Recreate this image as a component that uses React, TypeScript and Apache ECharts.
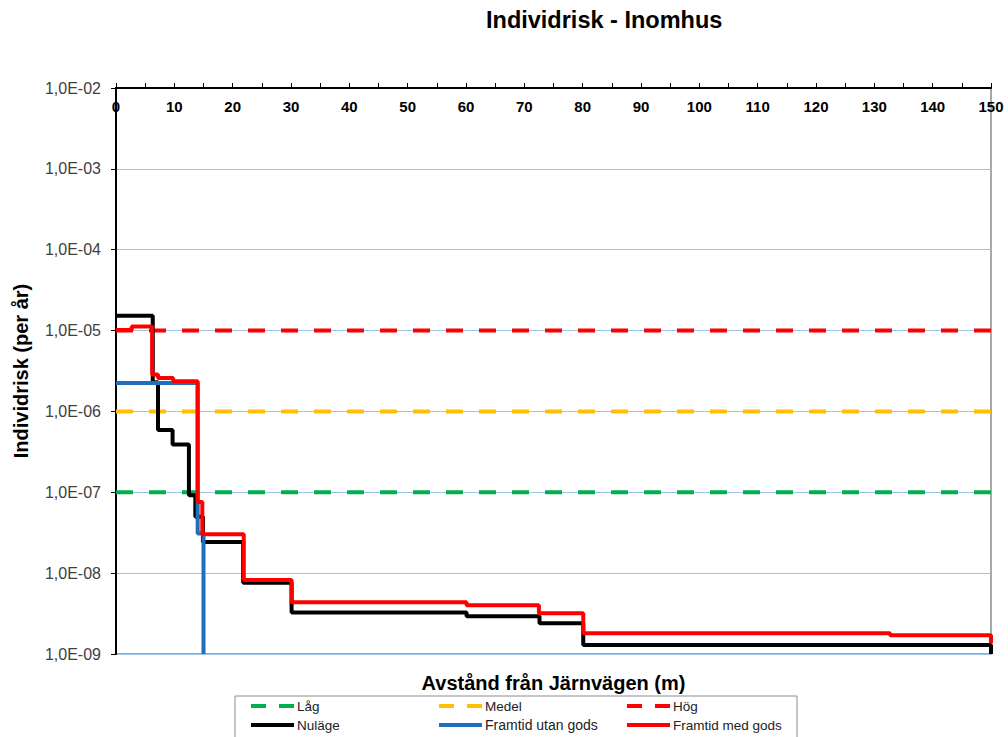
import React, { useEffect, useRef } from "react";
import * as echarts from "echarts";

// Threshold levels (per year)
const thresholdNames = ["Låg", "Medel", "Hög"];
const thresholdValues = [1e-7, 1e-6, 1e-5];
const thresholdColors = ["#00B050", "#FFC000", "#FF0000"];

// Step series: breakpoints (m) and risk value holding from each breakpoint
const nulageX = [0, 6.3, 7.2, 9.7, 12.5, 13.6, 14.9, 21.8, 30.1, 60.1, 72.6, 80.1, 150];
const nulageY = [1.53e-5, 2.3e-6, 5.9e-7, 3.9e-7, 9.2e-8, 5e-8, 2.43e-8, 7.6e-9, 3.25e-9, 2.94e-9, 2.4e-9, 1.29e-9, 1.0e-9];

const utanX = [0, 14.0, 15.0];
const utanY = [2.24e-6, 3.1e-8, 1.0e-9];

const medX = [0, 2.7, 6.2, 7.2, 9.8, 14.0, 14.8, 21.9, 30.1, 60.1, 72.5, 80.1, 132.7, 150];
const medY = [1.02e-5, 1.12e-5, 2.87e-6, 2.6e-6, 2.37e-6, 7.6e-8, 3.03e-8, 8.2e-9, 4.35e-9, 4.0e-9, 3.2e-9, 1.8e-9, 1.71e-9, 1.35e-9];

const xMin = 0;
const xMax = 150;
const yMin = 1e-9;
const yMax = 1e-2;

const FONT = "'Liberation Sans', Arial, sans-serif";

const zip = (xs: number[], ys: number[]) => xs.map((x, i) => [x, ys[i]]);

const DASH_ICON = "path://M0,0h15v4h-15zM28,0h15v4h-15z";
const SOLID_ICON = "path://M0,0h43v4h-43z";

export default function App() {
  const ref = useRef<HTMLDivElement>(null);

  useEffect(() => {
    if (!ref.current) return;
    const chart = echarts.init(ref.current, null, { renderer: "svg" });

    const thresholdSeries = thresholdNames.map((name, i) => ({
      name,
      type: "line",
      data: [
        [xMin, thresholdValues[i]],
        [xMax, thresholdValues[i]],
      ],
      symbol: "none",
      lineStyle: { color: thresholdColors[i], width: 4, type: [17, 16] },
      itemStyle: { color: thresholdColors[i] },
      z: 2,
    }));

    const stepSeries = [
      { name: "Nuläge", x: nulageX, y: nulageY, color: "#000000" },
      { name: "Framtid utan gods", x: utanX, y: utanY, color: "#1F6FBF" },
      { name: "Framtid med gods", x: medX, y: medY, color: "#FF0000" },
    ].map((s, i) => ({
      name: s.name,
      type: "line",
      step: "end",
      data: zip(s.x, s.y),
      symbol: "none",
      lineStyle: { color: s.color, width: 4 },
      itemStyle: { color: s.color },
      z: 3 + i,
    }));

    const legendPos = [
      { name: "Låg", left: 251, top: 699, dashed: true, size: 13.5 },
      { name: "Medel", left: 439, top: 699, dashed: true, size: 13.5 },
      { name: "Hög", left: 627, top: 699, dashed: true, size: 13.5 },
      { name: "Nuläge", left: 251, top: 718, dashed: false, size: 13.5 },
      { name: "Framtid utan gods", left: 439, top: 718, dashed: false, size: 14 },
      { name: "Framtid med gods", left: 627, top: 718, dashed: false, size: 13.5 },
    ];

    const legends = legendPos.map((l) => ({
      data: [{ name: l.name, icon: l.dashed ? DASH_ICON : SOLID_ICON }],
      left: l.left,
      top: l.top,
      padding: 0,
      itemWidth: 43,
      itemHeight: 4,
      selectedMode: false,
      textStyle: { fontFamily: FONT, fontSize: l.size, color: "#222", padding: [0, 0, 0, -2] },
    }));

    const expLabel = (v: number) => {
      const e = Math.round(Math.log10(v));
      const sign = e < 0 ? "-" : "+";
      return `1,0E${sign}${String(Math.abs(e)).padStart(2, "0")}`;
    };

    chart.setOption({
      animation: false,
      backgroundColor: "#ffffff",
      title: {
        text: "Individrisk - Inomhus",
        left: 486,
        top: 8,
        padding: 0,
        textStyle: { fontFamily: FONT, fontSize: 23.5, fontWeight: "bold", color: "#000" },
      },
      legend: legends,
      graphic: [
        {
          type: "rect",
          shape: { x: 235, y: 696, width: 562, height: 42 },
          style: { fill: "none", stroke: "#8c8c8c", lineWidth: 1 },
          silent: true,
          z: -1,
        },
      ],
      grid: {
        left: 116,
        right: 17,
        top: 88,
        bottom: 83,
        show: true,
        borderColor: "#8c8c8c",
        borderWidth: 1.5,
        backgroundColor: "#ffffff",
      },
      xAxis: [
        {
          type: "value",
          position: "top",
          min: xMin,
          max: xMax,
          interval: 5,
          axisLine: { show: true, lineStyle: { color: "#000", width: 2 } },
          axisTick: { show: true, inside: false, length: 5, lineStyle: { color: "#000", width: 1 } },
          axisLabel: {
            inside: true,
            margin: 11,
            fontFamily: FONT,
            fontSize: 15,
            fontWeight: "bold",
            color: "#000",
            formatter: (v: number) => (v % 10 === 0 ? String(v) : ""),
          },
          splitLine: { show: false },
        },
        {
          type: "value",
          position: "bottom",
          min: xMin,
          max: xMax,
          axisLine: { show: false },
          axisTick: { show: false },
          axisLabel: { show: false },
          splitLine: { show: false },
          name: "Avstånd från Järnvägen (m)",
          nameLocation: "middle",
          nameGap: 19,
          nameTextStyle: { fontFamily: FONT, fontSize: 20, fontWeight: "bold", color: "#000" },
        },
      ],
      yAxis: {
        type: "log",
        logBase: 10,
        min: yMin,
        max: yMax,
        axisLine: { show: true, lineStyle: { color: "#000", width: 2 } },
        axisTick: { show: true, inside: false, length: 5, lineStyle: { color: "#000", width: 1 } },
        minorTick: { show: false },
        axisLabel: {
          margin: 15,
          fontFamily: FONT,
          fontSize: 16,
          color: "#404040",
          formatter: expLabel,
        },
        splitLine: { show: true, lineStyle: { color: "#9DC3E6", width: 1 } },
        name: "Individrisk (per år)",
        nameLocation: "middle",
        nameGap: 85,
        nameTextStyle: { fontFamily: FONT, fontSize: 20, fontWeight: "bold", color: "#000" },
      },
      series: [...thresholdSeries, ...stepSeries],
    });

    return () => chart.dispose();
  }, []);

  return <div ref={ref} style={{ width: 1008, height: 737, position: "absolute", left: 0, top: 0 }} />;
}
